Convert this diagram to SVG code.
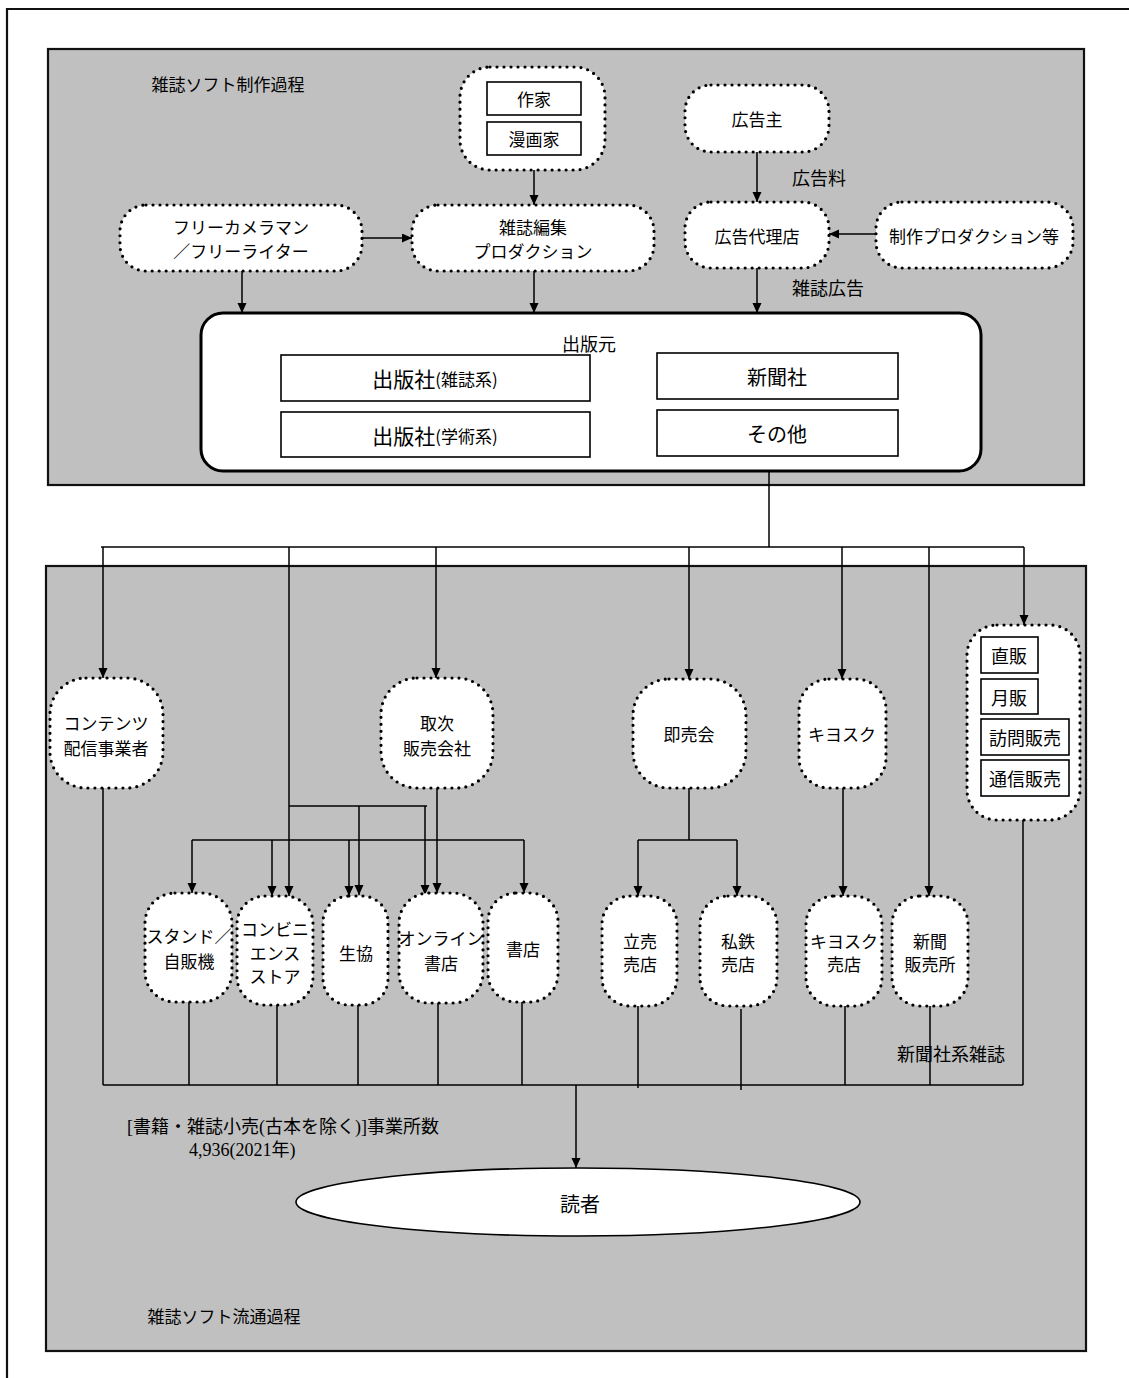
<svg xmlns="http://www.w3.org/2000/svg" width="1129" height="1378" viewBox="0 0 1129 1378">
<defs>
<marker id="arr" markerUnits="userSpaceOnUse" markerWidth="10" markerHeight="10" refX="10" refY="4.5" orient="auto">
<path d="M0,0 L10,4.5 L0,9 z" fill="#000"/>
</marker>
<style>
text{font-family:"Noto Sans CJK JP","Noto Sans",sans-serif;font-size:17px;fill:#000;text-anchor:middle;dominant-baseline:central}
.panel{fill:#c0c0c0;stroke:#111;stroke-width:2.2}
.dot{fill:#fff;stroke:#000;stroke-width:3.2;stroke-dasharray:0 7;stroke-linecap:round}
.box{fill:#fff;stroke:#000;stroke-width:1.6}
.c{fill:none;stroke:#000;stroke-width:1.5}
.a{fill:none;stroke:#000;stroke-width:1.5;marker-end:url(#arr)}
.big{font-size:21px}
.sm{font-size:17px}
.m{font-size:18px}
.lbl{text-anchor:start}
.serif{font-family:"Liberation Serif","Noto Sans CJK JP",serif;font-size:18px;text-anchor:start}
</style>
</defs>
<rect width="1129" height="1378" fill="#fff"/>
<path d="M7,1378 V9 H1129" fill="none" stroke="#111" stroke-width="2.2"/>

<g id="panel-production">
<rect class="panel" x="48" y="49" width="1036" height="436"/>
<text x="228" y="83">雑誌ソフト制作過程</text>
</g>
<g id="panel-distribution">
<rect class="panel" x="46" y="566" width="1040" height="785"/>
<text x="224" y="1315">雑誌ソフト流通過程</text>
</g>

<g id="connectors">
<path class="a" d="M534,170 V205"/>
<path class="a" d="M362,238 H412"/>
<path class="a" d="M757,152 V202"/>
<path class="a" d="M876,234 H829"/>
<path class="a" d="M242,271 V313"/>
<path class="a" d="M534,271 V313"/>
<path class="a" d="M757,268 V313"/>
<path class="c" d="M769,471 V547"/>
<path class="c" d="M101,547 H1024"/>
<path class="a" d="M103,547 V678"/>
<path class="a" d="M289,547 V896"/>
<path class="c" d="M289,806 H427"/>
<path class="a" d="M359,806 V895"/>
<path class="a" d="M425,806 V895"/>
<path class="a" d="M436,547 V678"/>
<path class="a" d="M689,547 V679"/>
<path class="a" d="M842,547 V679"/>
<path class="a" d="M929,547 V896"/>
<path class="a" d="M1024,547 V625"/>
<path class="a" d="M437,788 V893"/>
<path class="c" d="M192,840 H524"/>
<path class="a" d="M192,840 V893"/>
<path class="a" d="M272,840 V896"/>
<path class="a" d="M349,840 V896"/>
<path class="a" d="M524,840 V893"/>
<path class="c" d="M689,788 V840 M638,840 H737"/>
<path class="a" d="M638,840 V896"/>
<path class="a" d="M737,840 V896"/>
<path class="a" d="M843,788 V896"/>
<path class="c" d="M103,788 V1085 M189,1002 V1085 M277,1005 V1085 M358,1005 V1085 M438,1003 V1085 M522,1002 V1085 M638,1006 V1088 M741,1009 V1090 M845,1006 V1085 M930,1006 V1085 M1023,820 V1085"/>
<path class="c" d="M103,1085 H1023"/>
<path class="a" d="M576,1085 V1168"/>
</g>

<g id="writers">
<rect class="dot" x="460" y="67" width="145" height="103" rx="30"/>
<rect class="box" x="487" y="82" width="94" height="33"/>
<text x="534" y="98">作家</text>
<rect class="box" x="487" y="122" width="94" height="33"/>
<text x="534" y="138">漫画家</text>
</g>
<g id="advertiser">
<rect class="dot" x="685" y="85" width="144" height="67" rx="26"/>
<text x="757" y="118">広告主</text>
</g>
<g id="freelance">
<rect class="dot" x="120" y="205" width="242" height="66" rx="26"/>
<text x="241" y="226">フリーカメラマン</text>
<text x="241" y="250">／フリーライター</text>
</g>
<g id="editorial">
<rect class="dot" x="412" y="205" width="242" height="66" rx="26"/>
<text x="533" y="226">雑誌編集</text>
<text x="533" y="250">プロダクション</text>
</g>
<g id="agency">
<rect class="dot" x="685" y="202" width="144" height="66" rx="26"/>
<text x="757" y="235">広告代理店</text>
</g>
<g id="production">
<rect class="dot" x="876" y="202" width="197" height="66" rx="26"/>
<text x="974" y="235">制作プロダクション等</text>
</g>
<text class="lbl m" x="792" y="177">広告料</text>
<text class="lbl m" x="792" y="287">雑誌広告</text>

<g id="publisher">
<rect x="201" y="313" width="780" height="158" rx="22" fill="#fff" stroke="#000" stroke-width="3"/>
<text x="589" y="343" class="m">出版元</text>
<rect class="box" x="281" y="355" width="309" height="46"/>
<text x="435" y="378"><tspan class="big">出版社</tspan><tspan class="sm">(雑誌系)</tspan></text>
<rect class="box" x="281" y="412" width="309" height="45"/>
<text x="435" y="435"><tspan class="big">出版社</tspan><tspan class="sm">(学術系)</tspan></text>
<rect class="box" x="657" y="353" width="241" height="46"/>
<text x="777" y="376" style="font-size:20px">新聞社</text>
<rect class="box" x="657" y="410" width="241" height="46"/>
<text x="777" y="433" style="font-size:20px">その他</text>
</g>

<g id="contents">
<rect class="dot" x="50" y="678" width="113" height="110" rx="36"/>
<text x="106" y="722">コンテンツ</text>
<text x="106" y="747">配信事業者</text>
</g>
<g id="toritsugi">
<rect class="dot" x="381" y="678" width="112" height="110" rx="36"/>
<text x="437" y="722">取次</text>
<text x="437" y="747">販売会社</text>
</g>
<g id="sokubaikai">
<rect class="dot" x="633" y="679" width="113" height="109" rx="36"/>
<text x="689" y="733">即売会</text>
</g>
<g id="kiosk">
<rect class="dot" x="799" y="679" width="87" height="109" rx="30"/>
<text x="842" y="733">キヨスク</text>
</g>
<g id="direct">
<rect class="dot" x="967" y="625" width="113" height="195" rx="30"/>
<rect class="box" x="981" y="637" width="57" height="36"/>
<text x="1009" y="655" class="m">直販</text>
<rect class="box" x="981" y="679" width="57" height="35"/>
<text x="1009" y="697" class="m">月販</text>
<rect class="box" x="981" y="719" width="88" height="36"/>
<text x="1025" y="737" class="m">訪問販売</text>
<rect class="box" x="981" y="760" width="88" height="36"/>
<text x="1025" y="778" class="m">通信販売</text>
</g>

<g id="stand">
<rect class="dot" x="145" y="893" width="87" height="109" rx="30"/>
<text x="189" y="935">スタンド／</text>
<text x="189" y="960">自販機</text>
</g>
<g id="conveni">
<rect class="dot" x="237" y="896" width="76" height="109" rx="28"/>
<text x="275" y="928">コンビニ</text>
<text x="275" y="952">エンス</text>
<text x="275" y="975">ストア</text>
</g>
<g id="coop">
<rect class="dot" x="323" y="896" width="65" height="109" rx="26"/>
<text x="356" y="952">生協</text>
</g>
<g id="online">
<rect class="dot" x="399" y="893" width="84" height="110" rx="30"/>
<text x="441" y="937">オンライン</text>
<text x="441" y="962">書店</text>
</g>
<g id="bookstore">
<rect class="dot" x="488" y="893" width="70" height="109" rx="28"/>
<text x="523" y="948">書店</text>
</g>
<g id="tachiuri">
<rect class="dot" x="602" y="896" width="75" height="110" rx="28"/>
<text x="640" y="940">立売</text>
<text x="640" y="963">売店</text>
</g>
<g id="shitetsu">
<rect class="dot" x="700" y="896" width="77" height="110" rx="28"/>
<text x="738" y="940">私鉄</text>
<text x="738" y="963">売店</text>
</g>
<g id="kiosk-shop">
<rect class="dot" x="806" y="896" width="76" height="110" rx="28"/>
<text x="844" y="940">キヨスク</text>
<text x="844" y="963">売店</text>
</g>
<g id="newsagent">
<rect class="dot" x="892" y="896" width="76" height="110" rx="28"/>
<text x="930" y="940">新聞</text>
<text x="930" y="963">販売所</text>
</g>
<text x="951" y="1053" class="m">新聞社系雑誌</text>

<text class="serif" x="127" y="1127">[書籍・雑誌小売(古本を除く)]事業所数</text>
<text class="serif" x="189" y="1150">4,936(2021年)</text>

<g id="reader">
<ellipse cx="578" cy="1202" rx="282" ry="34" fill="#fff" stroke="#000" stroke-width="1.6"/>
<text x="580" y="1203" style="font-size:20px">読者</text>
</g>
</svg>
